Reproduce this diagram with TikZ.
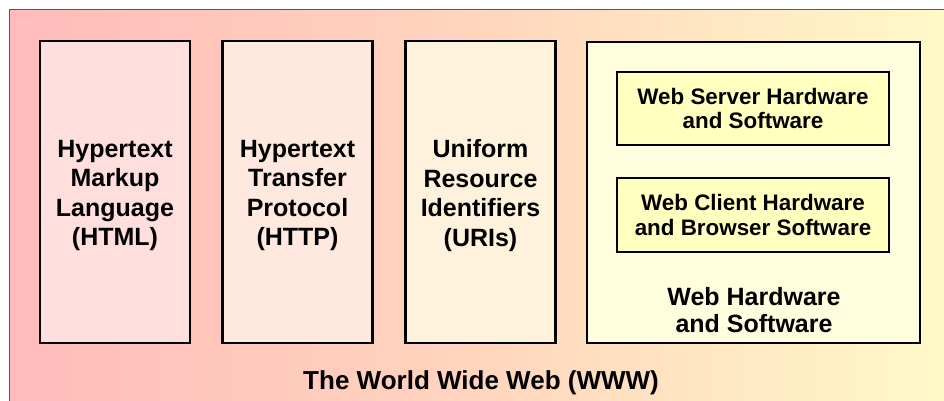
\documentclass[tikz,border=0pt]{standalone}
\usepackage{fontspec}
\setmainfont{Liberation Sans}
\usetikzlibrary{positioning}

\definecolor{bgleft}{HTML}{FFBBBB}
\definecolor{bgmid}{HTML}{FFD6BE}
\definecolor{bgright}{HTML}{FFFBC8}
\definecolor{htmlfill}{HTML}{FFDEDE}
\definecolor{httpfill}{HTML}{FFE9DE}
\definecolor{urifill}{HTML}{FFF2DD}
\definecolor{hwfill}{HTML}{FFFFE0}
\definecolor{partfill}{HTML}{FFFFC0}

\begin{document}
\begin{tikzpicture}[x=1pt,y=-1pt,
  layer/.style={draw=black,line width=2.5pt,inner sep=0pt,
    minimum width=150pt,minimum height=302pt},
  layertext/.style={align=center,inner sep=0pt,yshift=-3.5pt,
    font=\bfseries\fontsize{25}{29.5}\selectfont},
  part/.style={draw=black,line width=2.5pt,align=center,inner sep=0pt,fill=partfill,
    font=\bfseries\fontsize{22.4}{24.5}\selectfont,
    minimum width=272pt,minimum height=73pt},
  caption/.style={align=center,inner sep=0pt,font=\bfseries\fontsize{25}{27}\selectfont}]

\useasboundingbox (0,0) rectangle (944,401);

% background of the whole web
\shade[left color=bgleft,right color=bgright,middle color=bgmid] (9,10) rectangle (975,430);
\draw[black!65,line width=1pt] (975,10) -- (9,10) -- (9,430);

% the three technologies
\node[layer,fill=htmlfill] (html) at (115,192) {};
\node[layer,fill=httpfill] (http) at (297.5,192) {};
\node[layer,fill=urifill] (uri) at (480.5,192) {};
\node[layertext] (htmltext) at (html.center) {Hypertext\\Markup\\Language\\(HTML)};
\node[layertext] (httptext) at (http.center) {Hypertext\\Transfer\\Protocol\\(HTTP)};
\node[layertext] (uritext) at (uri.center) {Uniform\\Resource\\Identifiers\\(URIs)};

% hardware and software
\node[layer,fill=hwfill,minimum width=333pt,minimum height=301pt] (webhw) at (753.5,192.5) {};
\node[part] (server) at (753,108.5) {Web Server Hardware\\and Software};
\node[part,minimum height=74pt] (client) at (753,215) {Web Client Hardware\\and Browser Software};
\node[caption] (hwlabel) at (754,310) {Web Hardware\\and Software};

\node[caption,font=\bfseries\fontsize{26}{27}\selectfont] (www) at (481,383) {The World Wide Web (WWW)};
\end{tikzpicture}
\end{document}
